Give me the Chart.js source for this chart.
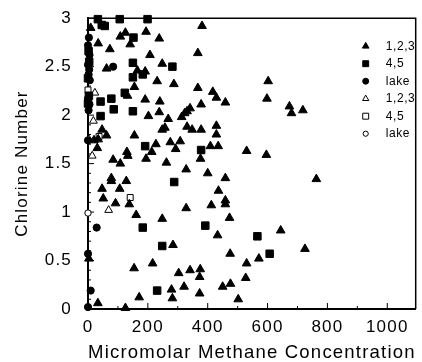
<!DOCTYPE html>
<html>
<head>
<meta charset="utf-8">
<script src="https://cdn.jsdelivr.net/npm/chart.js@4.4.0/dist/chart.umd.min.js"></script>
<style>
  html, body { margin: 0; padding: 0; background: #fff; }
</style>
</head>
<body>
<canvas id="scatter" width="422" height="362"></canvas>
<script>
// axis ticks
const xTicks = [0, 200, 400, 600, 800, 1000];
const yTicks = [0, 0.5, 1, 1.5, 2, 2.5, 3];
const xMax = 1095;
const seriesNames = ['1,2,3', '4,5', 'lake', '1,2,3', '4,5', 'lake'];

// [methane, chlorine number]
const filled123 = [
  [9,2.90],[108,2.81],[125,2.85],[141,2.73],[194,2.86],[238,2.79],[34,2.74],[73,2.68],[207,2.62],[367,2.64],
  [381,2.92],[62,2.48],[248,2.53],[165,2.46],[191,2.45],[231,2.35],[287,2.32],[155,2.29],[367,2.28],[132,2.20],
  [191,2.16],[240,2.14],[202,1.99],[238,2.03],[341,2.07],[331,2.04],[323,2.02],[313,1.98],[268,1.96],[257,1.87],
  [248,1.85],[331,1.88],[348,1.85],[378,1.85],[47,1.85],[62,1.79],[34,1.75],[20,1.74],[31,1.66],[155,1.79],
  [227,1.70],[213,1.62],[275,1.72],[308,1.73],[293,1.65],[130,1.62],[133,1.58],[84,1.54],[194,1.55],[602,2.35],
  [598,2.17],[417,2.24],[429,2.18],[459,2.13],[378,2.11],[673,2.09],[680,2.02],[718,2.05],[429,1.89],[429,1.80],
  [409,1.68],[435,1.68],[530,1.63],[596,1.59],[376,1.55],[459,1.35],[763,1.34],[725,0.62],[108,1.50],[262,1.51],
  [328,1.44],[78,1.35],[78,1.32],[128,1.32],[47,1.24],[106,1.24],[51,1.14],[92,1.09],[138,1.08],[161,0.97],
  [248,0.93],[328,1.04],[284,0.66],[3,0.52],[154,0.42],[216,0.47],[303,0.37],[341,0.40],[375,0.41],[373,0.33],
  [279,0.20],[321,0.23],[282,0.11],[171,0.12],[373,0.16],[33,0.06],[125,0.01],[400,1.40],[436,1.22],[459,1.12],
  [459,1.08],[412,1.07],[473,0.94],[433,0.76],[644,0.81],[475,0.57],[571,0.52],[530,0.47],[527,0.32],[450,0.23],
  [476,0.26],[502,0.10]
];
const filled45 = [
  [33,2.99],[106,2.99],[199,2.99],[46,2.93],[56,2.92],[152,2.80],[150,2.54],[282,2.50],[150,2.39],[183,2.42],
  [123,2.23],[78,2.17],[42,2.14],[86,2.06],[150,2.04],[42,1.99],[191,1.68],[378,1.64],[288,1.31],[183,0.84],
  [248,0.65],[231,0.19],[392,0.86],[566,0.75],[607,0.57],[2,2.66],[4,2.55],[0,2.38],[3,2.20],[0,2.12]
];
const filledLake = [
  [3,2.80],[0,2.72],[5,2.62],[0,2.52],[4,2.47],[2,2.42],[6,2.36],[0,2.17],[5,2.11],[2,2.05],
  [84,2.50],[29,0.84],[0,0.57],[9,0.19],[0,0.02],[0,1.74]
];
const open123 = [[23,2.23],[18,1.94],[14,1.58],[69,1.02],[3,1.75]];
const open45 = [[0,2.26],[37,1.78],[141,1.15]];
const openLake = [[0,0.99]];

const toPoints = arr => arr.map(p => ({x: p[0], y: p[1]}));

function series(i, data, style, radius, filled, legendRadius) {
  return {
    label: seriesNames[i],
    data: toPoints(data),
    pointStyle: style,
    pointRadius: radius,
    pointHoverRadius: radius,
    pointBorderWidth: 1,
    borderColor: '#000',
    backgroundColor: filled ? '#000' : '#fff',
    pointBackgroundColor: filled ? '#000' : '#fff',
    pointBorderColor: '#000',
    showLine: false,
    clip: false,
    legendRadius: legendRadius,
    order: i
  };
}

// frame + inward tick marks, legend inside the plot
const frameTicks = {
  id: 'frameTicks',
  beforeDraw(chart) {
    chart.ctx.letterSpacing = '1.2px';
  },
  beforeDatasetsDraw(chart) {
    const {ctx, chartArea: a, scales: {x, y}} = chart;
    ctx.save();
    ctx.strokeStyle = '#000';
    ctx.lineWidth = 1.5;
    ctx.beginPath();
    ctx.moveTo(a.left, a.top);
    ctx.lineTo(a.right, a.top);
    ctx.lineTo(a.right, a.bottom);
    ctx.stroke();
    ctx.lineWidth = 1;
    ctx.beginPath();
    for (let v = 0; v <= 1000; v += 100) {
      const px = x.getPixelForValue(v);
      ctx.moveTo(px, a.bottom);
      ctx.lineTo(px, a.bottom - (v % 200 === 0 ? 6 : 3));
    }
    for (let i = 0; i <= 30; i++) {
      const py = y.getPixelForValue(i / 10);
      ctx.moveTo(a.left, py);
      ctx.lineTo(a.left + (i % 5 === 0 ? 6 : 3), py);
    }
    ctx.stroke();
    ctx.restore();
  },
  afterDraw(chart) {
    const {ctx, chartArea: a} = chart;
    ctx.save();
    ctx.letterSpacing = '0.6px';
    ctx.font = '12px "Liberation Sans", Arial, sans-serif';
    ctx.textBaseline = 'middle';
    ctx.textAlign = 'left';
    chart.data.datasets.forEach((ds, i) => {
      const cy = a.top + 28 + i * 17.5;
      const cx = a.right - 50;
      ctx.fillStyle = ds.pointBackgroundColor;
      ctx.strokeStyle = '#000';
      ctx.lineWidth = 1;
      Chart.helpers.drawPoint(ctx, {pointStyle: ds.pointStyle, radius: ds.legendRadius, borderWidth: 1, rotation: 0}, cx, cy);
      ctx.fillStyle = '#000';
      ctx.fillText(ds.label, cx + 20, cy);
    });
    ctx.restore();
  }
};

Chart.defaults.font.family = '"Liberation Sans", Arial, sans-serif';
Chart.defaults.color = '#000';

new Chart(document.getElementById('scatter'), {
  type: 'scatter',
  data: {
    datasets: [
      series(0, filled123, 'triangle', 5, true, 3.8),
      series(1, filled45, 'rect', 5.3, true, 4.2),
      series(2, filledLake, 'circle', 3.6, true, 3),
      series(3, open123, 'triangle', 4.5, false, 3.6),
      series(4, open45, 'rect', 4.2, false, 4.2),
      series(5, openLake, 'circle', 3.2, false, 2.6)
    ]
  },
  options: {
    responsive: false,
    animation: false,
    events: [],
    layout: { padding: { top: 15, right: 4, left: 0, bottom: 0 } },
    plugins: { legend: { display: false }, tooltip: { enabled: false } },
    scales: {
      x: {
        type: 'linear',
        min: 0,
        max: xMax,
        afterFit: s => { s.height = 53; },
        afterBuildTicks: s => { s.ticks = xTicks.map(v => ({value: v})); },
        ticks: { padding: 0, font: { size: 17 }, maxRotation: 0, callback: v => String(v) },
        grid: { display: false },
        border: { color: '#000', width: 2 },
        title: { display: true, text: 'Micromolar Methane Concentration', font: { size: 19, lineHeight: 1 }, padding: { top: 0, bottom: 0 } }
      },
      y: {
        min: 0,
        max: 3,
        afterFit: s => { s.width = 88; },
        afterBuildTicks: s => { s.ticks = yTicks.map(v => ({value: v})); },
        ticks: { padding: 8, font: { size: 17 }, callback: v => String(v) },
        grid: { display: false },
        border: { color: '#000', width: 2 },
        title: { display: true, text: 'Chlorine Number', font: { size: 17 }, padding: { top: 12, bottom: 0 } }
      }
    }
  },
  plugins: [frameTicks]
});
</script>
</body>
</html>
